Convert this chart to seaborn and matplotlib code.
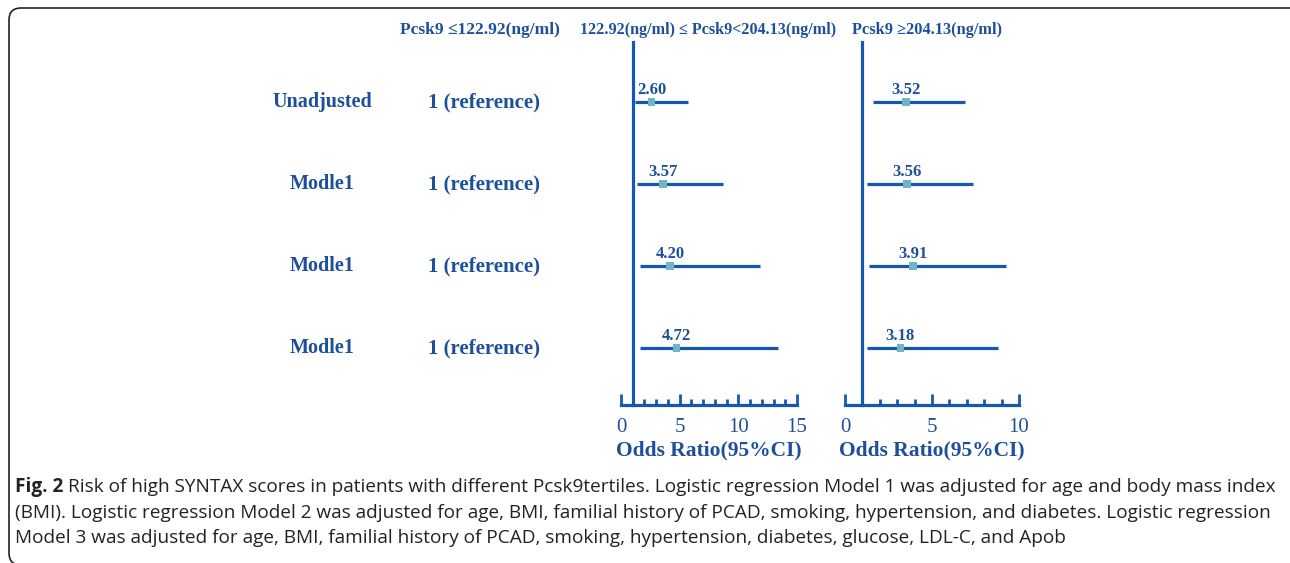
import numpy as np
import matplotlib.pyplot as plt
import seaborn as sns
import pandas as pd
from matplotlib.patches import FancyBboxPatch
from matplotlib.ticker import MultipleLocator

# data
row_labels = ['Unadjusted', 'Modle1', 'Modle1', 'Modle1']
ref_text = '1 (reference)'
headers = ['Pcsk9 \u2264122.92(ng/ml)',
           '122.92(ng/ml) \u2264 Pcsk9<204.13(ng/ml)',
           'Pcsk9 \u2265204.13(ng/ml)']

mid_or = [2.60, 3.57, 4.20, 4.72]
mid_lo = [1.2, 1.35, 1.6, 1.6]
mid_hi = [5.7, 8.7, 11.85, 13.4]

high_or = [3.52, 3.56, 3.91, 3.18]
high_lo = [1.6, 1.25, 1.4, 1.25]
high_hi = [6.9, 7.35, 9.25, 8.8]

caption = [
    'Risk of high SYNTAX scores in patients with different Pcsk9tertiles. Logistic regression Model 1 was adjusted for age and body mass index',
    '(BMI). Logistic regression Model 2 was adjusted for age, BMI, familial history of PCAD, smoking, hypertension, and diabetes. Logistic regression',
    'Model 3 was adjusted for age, BMI, familial history of PCAD, smoking, hypertension, diabetes, glucose, LDL-C, and Apob',
]

sns.set_style('white')
plt.rcParams['font.family'] = ['Liberation Serif', 'DejaVu Serif']

text_col = '#1d4f9b'
line_col = '#1558b0'
mark_col = '#6fb5c6'

W, H = 1290, 563
fig = plt.figure(figsize=(W / 100, H / 100), dpi=100)

ypos = np.arange(len(row_labels))
top_px, bot_px = 42, 405


def make_panel(x0_px, x1_px, xmax, orv, lo, hi):
    ax = fig.add_axes([x0_px / W, (H - bot_px) / H, (x1_px - x0_px) / W, (bot_px - top_px) / H])
    df = pd.DataFrame({'or': orv, 'lo': lo, 'hi': hi, 'y': ypos})
    ax.hlines(df['y'], df['lo'], df['hi'], color=line_col, lw=2.3, clip_on=False, zorder=2)
    sns.scatterplot(data=df, x='or', y='y', marker='s', s=30, color=mark_col,
                    edgecolor='none', ax=ax, zorder=3, clip_on=False)
    for _, r in df.iterrows():
        ax.annotate(f"{r['or']:.2f}", (r['or'], r['y']), xytext=(0, 3), textcoords='offset points',
                    ha='center', va='bottom', fontsize=12, fontweight='bold', color=text_col)
    ax.set_xlim(0, xmax)
    ax.set_ylim(3 + 57 / 82, -60 / 82)
    for s in ['top', 'right']:
        ax.spines[s].set_visible(False)
    ax.spines['left'].set_position(('data', 1))
    for s in ['left', 'bottom']:
        ax.spines[s].set_color(line_col)
        ax.spines[s].set_linewidth(2.3)
    ax.set_yticks(ypos)
    ax.set_yticklabels([])
    ax.tick_params(axis='y', direction='out', length=4, width=2, color=line_col)
    ax.xaxis.set_major_locator(MultipleLocator(5))
    ax.xaxis.set_minor_locator(MultipleLocator(1))
    ax.tick_params(axis='x', which='major', direction='in', length=8, width=2, color=line_col,
                   labelsize=15, labelcolor=text_col, pad=9, bottom=True)
    ax.tick_params(axis='x', which='minor', direction='in', length=4, width=2, color=line_col, bottom=True)
    ax.set_xlabel('Odds Ratio(95%CI)', fontsize=15.5, fontweight='bold', color=text_col, labelpad=3)
    ax.set_ylabel('')
    ax.patch.set_alpha(0)
    return ax


make_panel(621, 797, 15, mid_or, mid_lo, mid_hi)
make_panel(845, 1019, 10, high_or, high_lo, high_hi)

# left text columns
row_y = [102, 184, 266, 348]
for lab, yy in zip(row_labels, row_y):
    fig.text(322 / W, 1 - yy / H, lab, ha='center', va='center', fontsize=14.5,
             fontweight='bold', color=text_col)
    fig.text(484 / W, 1 - yy / H, ref_text, ha='center', va='center', fontsize=15,
             fontweight='bold', color=text_col)

for hx, h, fs in zip([480, 708, 927], headers, [12.5, 11.6, 11.8]):
    fig.text(hx / W, 1 - 30 / H, h, ha='center', va='center', fontsize=fs,
             fontweight='bold', color=text_col)

# caption, sized so the first line fills the frame width like the original
cap_font = ['Open Sans', 'DejaVu Sans']
cap_y = [487, 513, 538]
renderer = fig.canvas.get_renderer()
probe = fig.text(0, 0, 'Fig. 2 ' + caption[0], fontsize=10, family=cap_font)
pw = probe.get_window_extent(renderer).width
probe.remove()
cap_size = 10 * (1276 - 15) / pw

t = fig.text(15 / W, 1 - cap_y[0] / H, 'Fig. 2', ha='left', va='center', fontsize=cap_size,
             fontweight='bold', family=cap_font, color='#222222')
bb = t.get_window_extent(renderer)
fig.text((bb.x1 + 5) / W, 1 - cap_y[0] / H, caption[0], ha='left', va='center', fontsize=cap_size,
         family=cap_font, color='#222222')
for line, yy in zip(caption[1:], cap_y[1:]):
    fig.text(15 / W, 1 - yy / H, line, ha='left', va='center', fontsize=cap_size,
             family=cap_font, color='#222222')

# rounded frame around the figure
frame = FancyBboxPatch((0.09, -0.02), 12.95, 5.57, boxstyle='round,pad=0,rounding_size=0.12',
                       transform=fig.dpi_scale_trans, fill=False, lw=1.2, ec='#222222', clip_on=False)
fig.patches.append(frame)

fig.savefig('out.png', dpi=100)
